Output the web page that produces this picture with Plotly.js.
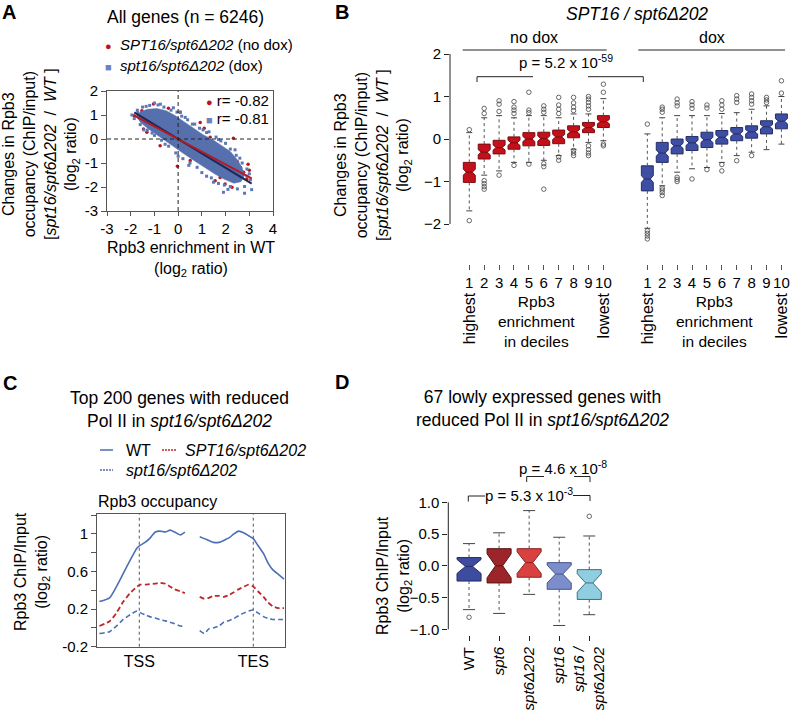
<!DOCTYPE html>
<html><head><meta charset="utf-8">
<script src="https://cdn.plot.ly/plotly-3.0.1.min.js"></script>
<style>html,body{margin:0;padding:0;background:#fff}</style>
</head><body><div id="chart" style="width:792px;height:710px"></div>
<script>
// ================= DATA =================
// ---- Panel A: scatter (dense core outline + individual genes at the edges)
const cloudX = [-1.78,-1.6,-1.3,-0.9,-0.5,-0.15,0.25,0.65,1.05,1.45,1.85,2.2,2.48,2.7,2.8,2.65,2.35,1.95,1.55,1.15,0.75,0.35,-0.05,-0.45,-0.85,-1.25,-1.6];
const cloudY = [0.95,1.12,1.24,1.27,1.18,0.99,0.72,0.44,0.18,-0.02,-0.27,-0.52,-0.84,-1.2,-1.52,-1.78,-1.84,-1.68,-1.46,-1.22,-0.95,-0.69,-0.42,-0.15,0.12,0.42,0.7];
const doxX = [-1.95,-1.85,-1.72,-1.5,-1.2,-0.85,-0.6,-0.3,-0.05,0.15,0.4,0.6,0.9,1.2,1.6,2.0,2.2,2.45,2.7,2.9,3.0,3.05,2.8,2.5,2.2,1.95,1.7,1.4,1.0,0.8,0.5,0.2,-0.1,-0.4,-0.7,-1.0,-1.3,-1.6,-1.45,0.45,1.49,1.91,2.8,3.1,-1.0,-0.2,0.1,1.3,2.4,-1.7,0.7,1.8,-1.35,-0.75,0.3,1.05,1.7,2.6,2.1,1.2,0.0,-0.55,-1.1,2.9];
const doxY = [1.0,0.85,1.2,1.33,1.4,1.42,1.33,1.2,1.12,0.95,0.8,0.62,0.45,0.27,0.08,-0.18,-0.42,-0.68,-1.0,-1.25,-1.45,-1.7,-1.98,-2.08,-1.98,-1.92,-1.85,-1.62,-1.4,-1.18,-1.0,-0.82,-0.58,-0.3,-0.05,0.15,0.37,0.6,0.38,-1.1,-1.8,-2.22,-2.26,-2.11,1.5,1.3,1.12,0.3,-0.45,1.1,0.62,-0.08,1.36,1.45,0.9,0.38,-0.02,-0.8,-2.1,-1.55,-0.72,-0.22,0.25,-1.55];
const noDoxX = [-1.85,-1.53,-1.04,-0.41,0.08,-0.03,0.93,1.35,1.21,1.56,1.77,2.05,2.27,2.62,2.76,2.48,2.05,2.9,2.27,1.77,1.56,2.33,-1.46,-1.32,-0.76,0.51,1.98,0.5,1.0,1.8,2.2,1.3,2.5,1.6,0.2,-0.8,2.95,3.0,1.1];
const noDoxY = [0.97,1.18,1.46,1.28,1.11,-1.14,0.69,0.07,-0.14,-0.28,-0.42,-0.63,-0.83,-1.18,-1.39,-1.53,-1.25,-1.67,-2.01,-1.6,-1.74,0.03,0.42,0.28,-0.28,-0.9,-1.88,0.3,-0.2,-0.9,-1.1,-0.5,-0.95,-1.0,0.5,0.9,-1.05,-1.3,0.45];
const fitX = [-1.85, 3.1];
const fitNoDoxY = [0.97, -1.64];
const fitDoxY = [1.11, -1.86];
const rNoDox = '-0.82', rDox = '-0.81';

// ---- Panel B: boxplots by decile
const decileLabels = ['1','2','3','4','5','6','7','8','9','10'];
const noDoxQ1  = [-1.02,-0.47,-0.35,-0.24,-0.16,-0.15,-0.11,0.03,0.15,0.27];
const noDoxMed = [-0.78,-0.31,-0.20,-0.09,0.00,0.01,0.05,0.17,0.27,0.41];
const noDoxQ3  = [-0.55,-0.12,-0.03,0.05,0.15,0.16,0.21,0.31,0.39,0.55];
const noDoxLo  = [-1.69,-0.85,-0.75,-0.55,-0.55,-0.50,-0.39,-0.24,-0.08,-0.04];
const noDoxHi  = [0.15,0.50,0.55,0.50,0.55,0.55,0.50,0.59,0.59,0.95];
const noDoxNotch = [0.07,0.06,0.06,0.06,0.06,0.06,0.06,0.05,0.05,0.05];
const noDoxOut = [[0.22,-1.92],[0.60,0.72,-0.98,-1.05,-1.12,-1.18],[0.65,0.82,0.90,-0.85],[0.60,0.68,0.75,0.88,-0.62],[0.62,0.68,1.10,-0.59],[0.63,0.70,0.78,-0.58,-0.65,-1.18],[0.60,0.70,0.80,0.98,-0.42,-0.50],[0.67,0.75,0.85,0.98,-0.27,-0.33,-0.39],[0.70,0.78,0.86,0.94,1.00,-0.16,-0.25,-0.33,-0.39],[1.10,1.29,-0.12,-0.16]];
const doxQ1  = [-1.22,-0.55,-0.35,-0.27,-0.20,-0.12,-0.04,0.02,0.12,0.24];
const doxMed = [-0.94,-0.33,-0.16,-0.09,-0.02,0.04,0.12,0.17,0.29,0.42];
const doxQ3  = [-0.63,-0.08,0.00,0.06,0.16,0.20,0.27,0.31,0.43,0.59];
const doxLo  = [-2.10,-1.10,-0.78,-0.70,-0.67,-0.55,-0.39,-0.31,-0.25,-0.12];
const doxHi  = [0.12,0.50,0.55,0.55,0.55,0.60,0.62,0.70,0.78,1.00];
const doxNotch = [0.08,0.07,0.06,0.06,0.06,0.06,0.06,0.05,0.05,0.06];
const doxOut = [[0.35,-2.16,-2.22,-2.28,-2.35],[0.63,0.70,0.75,-1.15,-1.20,-1.26,-1.33],[0.78,0.85,0.94,-0.90,-0.95,-1.00],[0.72,0.80,0.88,-0.94],[0.73,0.80,-0.72],[0.70,0.80,0.90,-0.60,-0.75],[0.86,0.94,1.02,-0.51],[0.82,0.90,0.98,1.06,-0.39],[0.86,0.92,0.98],[1.08,1.37]];

// ---- Panel C: metagene profiles (TSS = 0, TES = 100, relative position)
const posTSS = [-35,-26,-20,-14,-8,-2,1,5,9,14,18,23,27,31,36,40];
const wtTSS     = [0.28,0.32,0.44,0.58,0.72,0.85,0.88,0.91,0.95,1.02,1.03,1.02,1.04,1.02,0.99,1.02];
const noDoxTSS  = [0.02,0.07,0.16,0.28,0.37,0.44,0.46,0.46,0.465,0.47,0.48,0.47,0.44,0.41,0.39,0.37];
const doxTSS    = [-0.06,-0.04,0.02,0.09,0.14,0.18,0.16,0.14,0.12,0.105,0.09,0.075,0.06,0.045,0.02,0.02];
const posTES = [53,57,61,65,70,74,79,83,87,92,96,100,104,109,113,117,122,127];
const wtTES     = [0.97,0.95,0.93,0.91,0.91,0.93,0.96,1.0,1.03,1.01,0.98,0.95,0.88,0.79,0.69,0.62,0.57,0.52];
const noDoxTES  = [0.33,0.31,0.32,0.34,0.34,0.33,0.35,0.38,0.41,0.44,0.46,0.44,0.39,0.33,0.27,0.23,0.21,0.21];
const doxTES    = [-0.03,-0.06,-0.01,0.0,0.02,0.06,0.08,0.10,0.13,0.16,0.18,0.19,0.16,0.12,0.10,0.09,0.09,0.09];

// ---- Panel D: 67 lowly expressed genes
const dLabels = ['WT','<i>spt6</i>','<i>spt6Δ202</i>','<i>spt16</i>','<i>spt16 /<br>spt6Δ202</i>'];
const dQ1  = [-0.24,-0.27,-0.18,-0.37,-0.53];
const dMed = [-0.01,0.00,0.05,-0.13,-0.27];
const dQ3  = [0.13,0.27,0.27,0.05,-0.06];
const dLo  = [-0.69,-0.75,-0.45,-0.94,-0.77];
const dHi  = [0.35,0.52,0.87,0.45,0.47];
const dNotch = [0.11,0.19,0.17,0.14,0.145];
const dOut = [[-0.81],[],[],[],[0.78]];

// ================= STYLE / LAYOUT HELPERS =================
const W = 792, H = 710;
const FONT = 'Liberation Sans, Arial, Helvetica, sans-serif';
const RED = '#c0141c', BLUE_PT = '#5d77b4', NAVY = '#1c2757';
const BOX_RED = '#c3101a', BOX_RED_LINE = '#7a0a0f';
const BOX_BLUE = '#3d4ea3', BOX_BLUE_LINE = '#242e6a';
const D_FILL = ['#3d4c9e','#9b2528','#d8413f','#7c8dcc','#8fcde0'];
const D_LINE = ['#232d66','#5a1214','#8c2222','#46558f','#3f6f7f'];
const PROF_BLUE = '#4a6fb3', PROF_RED = '#c0262d';
const DOX_OFFSET = 11.95;
const px = x => x / W, py = y => 1 - y / H;

function T(text, x, y, o) {
  o = o || {};
  return {text: text, x: o.xref ? x : px(x), y: o.yref ? y : py(y),
    xref: o.xref || 'paper', yref: o.yref || 'paper', showarrow: false,
    xanchor: o.xanchor || 'center', yanchor: o.yanchor || 'middle',
    textangle: o.angle || 0, align: 'center',
    font: {family: FONT, size: o.size || 16, color: '#000'}};
}
function S(x0, y0, x1, y1, o) {
  o = o || {};
  return {type: 'line', xref: 'paper', yref: 'paper', x0: px(x0), y0: py(y0), x1: px(x1), y1: py(y1),
    line: {color: o.color || '#222', width: o.width || 1, dash: o.dash || 'solid'}};
}

const traces = [];

// ---- Panel A traces
traces.push({type: 'scatter', mode: 'markers', x: noDoxX, y: noDoxY, xaxis: 'x', yaxis: 'y',
  marker: {symbol: 'circle', size: 3.5, color: RED}, hoverinfo: 'skip'});
traces.push({type: 'scatter', mode: 'lines', x: cloudX, y: cloudY, fill: 'toself', fillcolor: '#5670ad',
  line: {width: 0.5, color: '#5670ad'}, xaxis: 'x', yaxis: 'y', hoverinfo: 'skip'});
traces.push({type: 'scatter', mode: 'markers', x: doxX, y: doxY, xaxis: 'x', yaxis: 'y',
  marker: {symbol: 'square', size: 3, color: BLUE_PT}, hoverinfo: 'skip'});
traces.push({type: 'scatter', mode: 'lines', x: fitX, y: fitDoxY, xaxis: 'x', yaxis: 'y',
  line: {color: NAVY, width: 2}, hoverinfo: 'skip'});
traces.push({type: 'scatter', mode: 'lines', x: fitX, y: fitNoDoxY, xaxis: 'x', yaxis: 'y',
  line: {color: '#b01c24', width: 2}, hoverinfo: 'skip'});

// ---- box helpers
function addBoxGroup(pos, q1, med, q3, lo, hi, notch, outs, fill, lineCol, width, nw, xa, ya) {
  const wx = [], wy = [], cx = [], cy = [], ox = [], oy = [];
  const cap = width * 0.25;
  pos.forEach((p, i) => {
    wx.push(p, p, null, p, p, null); wy.push(q3[i], hi[i], null, q1[i], lo[i], null);
    cx.push(p - cap, p + cap, null, p - cap, p + cap, null); cy.push(hi[i], hi[i], null, lo[i], lo[i], null);
    outs[i].forEach(v => { ox.push(p); oy.push(v); });
  });
  traces.push({type: 'scatter', mode: 'lines', x: wx, y: wy, xaxis: xa, yaxis: ya,
    line: {color: '#555', width: 1, dash: 'dot'}, hoverinfo: 'skip'});
  traces.push({type: 'scatter', mode: 'lines', x: cx, y: cy, xaxis: xa, yaxis: ya,
    line: {color: '#444', width: 1}, hoverinfo: 'skip'});
  traces.push({type: 'scatter', mode: 'markers', x: ox, y: oy, xaxis: xa, yaxis: ya,
    marker: {symbol: 'circle-open', size: 4.5, color: '#444', line: {width: 0.8}}, hoverinfo: 'skip'});
  traces.push({type: 'box', orientation: 'v', x: pos, q1: q1, median: med, q3: q3,
    notched: true, notchspan: notch, notchwidth: nw, width: width, whiskerwidth: 0,
    fillcolor: fill, line: {color: lineCol, width: 1}, xaxis: xa, yaxis: ya, hoverinfo: 'skip'});
}

// ---- Panel B traces
const posNoDox = decileLabels.map((d, i) => i + 1);
const posDox = decileLabels.map((d, i) => i + 1 + DOX_OFFSET);
addBoxGroup(posNoDox, noDoxQ1, noDoxMed, noDoxQ3, noDoxLo, noDoxHi, noDoxNotch, noDoxOut, BOX_RED, BOX_RED_LINE, 0.8, 0.25, 'x2', 'y2');
addBoxGroup(posDox, doxQ1, doxMed, doxQ3, doxLo, doxHi, doxNotch, doxOut, BOX_BLUE, BOX_BLUE_LINE, 0.8, 0.25, 'x2', 'y2');

// ---- Panel C traces
const posAll = posTSS.concat([null], posTES);
traces.push({type: 'scatter', mode: 'lines', x: posAll, y: wtTSS.concat([null], wtTES), xaxis: 'x3', yaxis: 'y3',
  line: {color: PROF_BLUE, width: 1.6, shape: 'spline', smoothing: 0.5}, connectgaps: false, hoverinfo: 'skip'});
traces.push({type: 'scatter', mode: 'lines', x: posAll, y: noDoxTSS.concat([null], noDoxTES), xaxis: 'x3', yaxis: 'y3',
  line: {color: PROF_RED, width: 1.8, dash: '5px,3px', shape: 'spline', smoothing: 0.5}, connectgaps: false, hoverinfo: 'skip'});
traces.push({type: 'scatter', mode: 'lines', x: posAll, y: doxTSS.concat([null], doxTES), xaxis: 'x3', yaxis: 'y3',
  line: {color: PROF_BLUE, width: 1.6, dash: '5px,3px', shape: 'spline', smoothing: 0.5}, connectgaps: false, hoverinfo: 'skip'});

// ---- Panel D traces
dLabels.forEach((lab, i) => {
  addBoxGroup([i], [dQ1[i]], [dMed[i]], [dQ3[i]], [dLo[i]], [dHi[i]], [dNotch[i]], [dOut[i]],
    D_FILL[i], D_LINE[i], 0.8, 0.35, 'x4', 'y4');
});

// ================= LAYOUT =================
const tickFont = {family: FONT, size: 15, color: '#000'};
const AX = '#555';
const layout = {
  width: W, height: H, margin: {l: 0, r: 0, t: 0, b: 0},
  paper_bgcolor: '#fff', plot_bgcolor: 'rgba(0,0,0,0)', showlegend: false,
  font: {family: FONT, color: '#000'},
  // A
  xaxis: {domain: [px(107), px(273)], range: [-3, 4], anchor: 'y', showgrid: false, zeroline: false,
    showline: true, mirror: true, linecolor: AX, ticks: 'outside', ticklen: 4, tickcolor: AX,
    tickvals: [-3,-2,-1,0,1,2,3,4], ticktext: ['-3','-2','-1','0','1','2','3','4'], tickfont: tickFont},
  yaxis: {domain: [py(211), py(91)], range: [-3, 2], anchor: 'x', showgrid: false, zeroline: false,
    showline: true, mirror: true, linecolor: AX, ticks: 'outside', ticklen: 5, tickcolor: AX,
    tickvals: [-3,-2,-1,0,1,2], ticktext: ['-3','-2','-1','0','1','2'], tickfont: tickFont},
  // B
  xaxis2: {domain: [px(450), 1], range: [-0.295, 22.66], anchor: 'y2',
    showgrid: false, zeroline: false, showline: false, ticks: 'outside', ticklen: 5, tickcolor: AX,
    tickvals: posNoDox.concat(posDox), ticktext: decileLabels.concat(decileLabels), tickfont: tickFont},
  yaxis2: {domain: [py(264), py(49.75)], range: [-2.94, 2.1], anchor: 'x2', showgrid: false, zeroline: false,
    showline: false, ticks: 'outside', ticklen: 5, tickcolor: '#222',
    tickvals: [-2,-1,0,1,2], ticktext: ['\u22122','\u22121','0','1','2'], tickfont: tickFont},
  // C
  xaxis3: {domain: [px(97), px(285.3)], range: [-37.1, 128.1], anchor: 'y3', showgrid: false, zeroline: false,
    showline: true, mirror: true, linecolor: AX, ticks: '', tickvals: [0, 100], ticktext: ['TSS', 'TES'],
    tickfont: {family: FONT, size: 16, color: '#000'}},
  yaxis3: {domain: [py(646.7), py(514)], range: [-0.2, 1.212], anchor: 'x3', showgrid: false, zeroline: false,
    showline: true, mirror: true, linecolor: AX, ticks: 'outside', ticklen: 5, tickcolor: AX,
    tickvals: [-0.2,0.2,0.6,1], ticktext: ['-0.2','0.2','0.6','1'], tickfont: tickFont,
    minor: {ticks: 'outside', ticklen: 5, tickcolor: AX, tick0: 0, dtick: 0.4, showgrid: false}},
  // D
  xaxis4: {domain: [px(448.3), px(610)], range: [-0.69, 4.69], anchor: 'y4',
    showgrid: false, zeroline: false, showline: false, ticks: 'outside', ticklen: 5, tickcolor: '#222',
    tickvals: [0,1,2,3,4], ticktext: dLabels, tickangle: -90, tickfont: tickFont},
  yaxis4: {domain: [py(635), py(496)], range: [-1.09, 1.1], anchor: 'x4', showgrid: false, zeroline: false,
    showline: false, ticks: 'outside', ticklen: 5, tickcolor: '#222',
    tickvals: [-1,-0.5,0,0.5,1], ticktext: ['\u22121.0','\u22120.5','0.0','0.5','1.0'], tickfont: tickFont},
  shapes: [
    // A reference lines
    {type: 'line', xref: 'x', yref: 'y domain', x0: 0, x1: 0, y0: 0, y1: 1, line: {color: '#222', width: 1, dash: '4px,3px'}},
    {type: 'line', xref: 'x domain', yref: 'y', x0: 0, x1: 1, y0: 0, y1: 0, line: {color: '#222', width: 1, dash: '4px,3px'}},
    // B y-axis line (spans tick range only)
    {type: 'line', xref: 'x2 domain', yref: 'y2', x0: 0, x1: 0, y0: -2, y1: 2, line: {color: '#222', width: 1}},
    // B group lines and p-value bracket
    S(462.7, 50, 606.7, 50), S(638.3, 50, 785, 50),
    S(477, 76.7, 533, 76.7), S(588, 76.7, 643.3, 76.7),
    S(477, 76.7, 477, 82), S(643.3, 76.7, 643.3, 82),
    // C TSS/TES dashed lines
    {type: 'line', xref: 'x3', yref: 'y3 domain', x0: 0, x1: 0, y0: 0, y1: 1, line: {color: '#555', width: 1, dash: '3px,3px'}},
    {type: 'line', xref: 'x3', yref: 'y3 domain', x0: 100, x1: 100, y0: 0, y1: 1, line: {color: '#555', width: 1, dash: '3px,3px'}},
    // C legend samples
    S(100, 450, 113, 450, {color: PROF_BLUE, width: 1.5}),
    S(162, 450, 177, 450, {color: PROF_RED, width: 1.5, dash: '2px,1px'}),
    S(100, 470, 113, 470, {color: PROF_BLUE, width: 1.5, dash: '2px,1px'}),
    // D y-axis line
    {type: 'line', xref: 'x4 domain', yref: 'y4', x0: 0, x1: 0, y0: -1, y1: 1, line: {color: '#222', width: 1}},
    // D brackets
    S(526.7, 476.5, 544, 476.5), S(574, 476.5, 590, 476.5), S(526.7, 476.5, 526.7, 482), S(590, 476.5, 590, 482),
    S(468.3, 496, 485, 496), S(573, 495.5, 590, 495.5), S(468.3, 496, 468.3, 501.5), S(590, 495.5, 590, 501)
  ],
  annotations: []
};

const A = layout.annotations;
const yTitleBig = 'Changes in Rpb3<br>occupancy (ChIP/input)<br>[<i>spt16/spt6Δ202</i>  /  <i>WT</i> ]<br>(log<sub>2</sub> ratio)';
// A
A.push(T('<b>A</b>', 9, 12, {size: 20}));
A.push(T('All genes (n = 6246)', 185, 17, {size: 17.5}));
A.push(T('<span style="color:' + RED + ';font-size:11px">●</span>  <i>SPT16/spt6Δ202</i> (no dox)', 103, 44, {xanchor: 'left', size: 15}));
A.push(T('<span style="color:#6a83bf;font-size:11px">■</span>  <i>spt16/spt6Δ202</i> (dox)', 103, 66, {xanchor: 'left', size: 15}));
A.push(T('<span style="color:' + RED + ';font-size:11px">●</span> r= ' + rNoDox, 204, 100, {xanchor: 'left', size: 15}));
A.push(T('<span style="color:#6a83bf;font-size:11px">■</span> r= ' + rDox, 204, 118, {xanchor: 'left', size: 15}));
A.push(T(yTitleBig, 41, 154, {angle: -90}));
A.push(T('Rpb3 enrichment in WT<br>(log<sub>2</sub> ratio)', 191, 259));
// B
A.push(T('<b>B</b>', 342, 12, {size: 20}));
A.push(T('<i>SPT16 / spt6Δ202</i>', 637, 14, {size: 17.5}));
A.push(T('no dox', 534, 37));
A.push(T('dox', 712, 37));
A.push(T('p = 5.2 x 10<sup>-59</sup>', 566, 62, {size: 15}));
A.push(T(yTitleBig, 373, 155, {angle: -90}));
[[posNoDox, 536], [posDox, 714]].forEach(([pos, cx]) => {
  A.push(T('highest', pos[0], py(318), {xref: 'x2', yref: 'paper', angle: -90}));
  A.push(T('lowest', pos[9], py(315), {xref: 'x2', yref: 'paper', angle: -90}));
  A.push(T('Rpb3<br>enrichment<br>in deciles', cx, 321, {size: 15.5}));
});
// C
A.push(T('<b>C</b>', 10, 383, {size: 20}));
A.push(T('Top 200 genes with reduced<br>Pol II in <i>spt16/spt6Δ202</i>', 179, 409, {size: 17.5}));
A.push(T('WT', 124, 450, {xanchor: 'left'}));
A.push(T('<i>SPT16/spt6Δ202</i>', 183, 450, {xanchor: 'left'}));
A.push(T('<i>spt16/spt6Δ202</i>', 124, 470, {xanchor: 'left'}));
A.push(T('Rpb3 occupancy', 96, 502, {xanchor: 'left'}));
A.push(T('Rpb3 ChIP/Input<br>(log<sub>2</sub> ratio)', 32, 572, {angle: -90}));
// D
A.push(T('<b>D</b>', 342, 382, {size: 20}));
A.push(T('67 lowly expressed genes with<br>reduced Pol II in <i>spt16/spt6Δ202</i>', 542, 408, {size: 17.5}));
A.push(T('p = 4.6 x 10<sup>-8</sup>', 563, 467, {size: 15}));
A.push(T('p = 5.3 x 10<sup>-3</sup>', 529, 495, {size: 15}));
A.push(T('Rpb3 ChIP/Input<br>(log<sub>2</sub> ratio)', 394, 576, {angle: -90}));

Plotly.newPlot('chart', traces, layout, {staticPlot: true, displayModeBar: false});
</script>
</body></html>
